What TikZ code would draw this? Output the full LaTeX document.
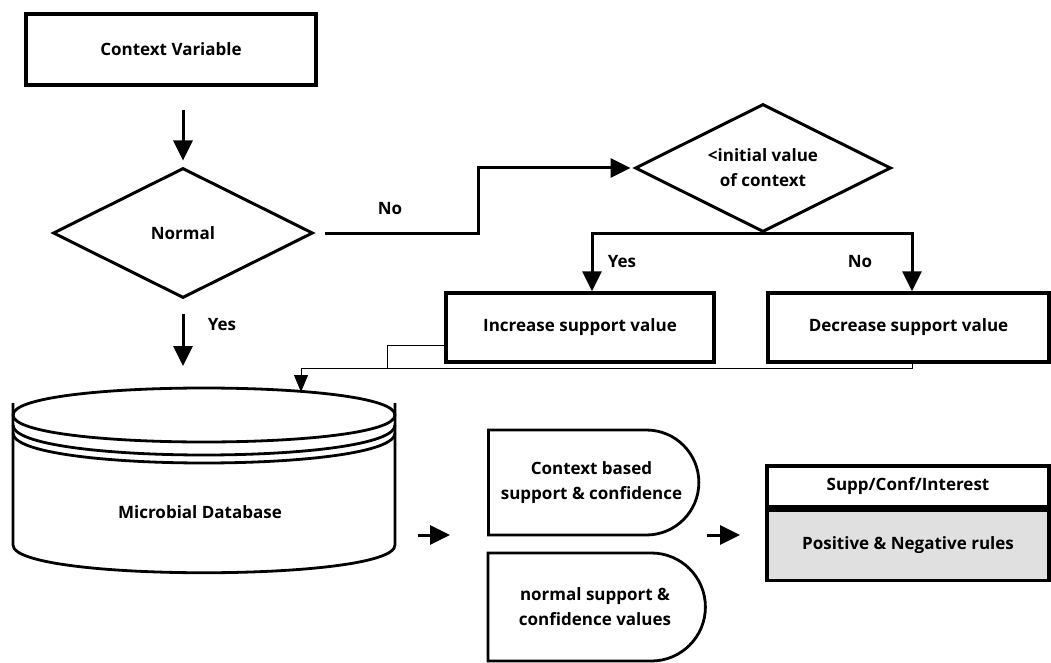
\documentclass[tikz,border=0pt]{standalone}
\usepackage{fontspec}
\setmainfont{Open Sans}
\usetikzlibrary{positioning, arrows.meta, shapes.geometric, shapes.misc}

\begin{document}
\begin{tikzpicture}[
    x=1pt, y=-1pt,
    every node/.style={font=\bfseries\fontsize{17}{25}\selectfont},
    box/.style={rectangle, draw, line width=3.5pt, align=center},
    decision/.style={diamond, draw, line width=3pt, aspect=2, inner sep=0pt, align=center},
    result/.style={rounded rectangle, rounded rectangle west arc=none, draw,
                   line width=2.8pt, align=center},
    dbline/.style={line width=2.8pt},
    arrow/.style={-{Triangle[length=20pt, width=19pt]}, line width=3pt},
    thinline/.style={line width=1pt},
    thinarrow/.style={-{Triangle[length=17pt, width=14pt]}, line width=1pt}
]
  \useasboundingbox (0,0) rectangle (1051,663);

  % context variable and the first test
  \node[box, minimum width=290, minimum height=71] (ctx) at (171,49.5) {Context Variable};
  \node[decision, minimum width=260, minimum height=130] (normal) at (183,233) {Normal};

  % second test and its two outcomes
  \node[decision, minimum width=256, minimum height=128] (init) at (763,168) {<initial value\\of context};
  \node[box, minimum width=268, minimum height=69] (inc) at (580,327.5) {Increase support value};
  \node[box, minimum width=281, minimum height=69] (dec) at (908.5,327.5) {Decrease support value};

  % database cylinder
  \draw[dbline] (13,415) .. controls (13,379) and (395,379) .. (395,415)
                         .. controls (395,451) and (13,451) .. (13,415);
  \draw[dbline] (13,425) .. controls (13,465) and (395,465) .. (395,425);
  \draw[dbline] (13,433) .. controls (13,473) and (395,473) .. (395,433);
  \draw[dbline] (13,403) -- (13,545) .. controls (13,582) and (395,582) .. (395,545) -- (395,403);
  \node (dbtext) at (200,512) {Microbial Database};
  \coordinate (dbrim) at (204,388);
  \coordinate (dbin) at (301,392);
  \coordinate (dbout) at (418,535);

  % support values
  \node[result, minimum width=217, minimum height=105] (ctxsup) at (591.5,482.5)
       {Context based\\support \& confidence};
  \node[result, minimum width=224, minimum height=108] (normsup) at (595,607)
       {normal support \&\\confidence values};
  \coordinate (supout) at (707,535);

  % rules table
  \node[box, minimum width=282, minimum height=41] (rulehead) at (908,486.5) {Supp/Conf/Interest};
  \node[box, fill=black!12, minimum width=282, minimum height=70, below=0pt of rulehead] (rules)
       {Positive \& Negative rules};

  % connectors
  \draw[arrow, shorten <=23pt, shorten >=6pt] (normal.north |- ctx.south) -- (normal.north);
  \draw[arrow, shorten <=14pt, shorten >=22pt] (normal.south) -- (normal.south |- dbrim);
  \node (yes1) at (222,325) {Yes};
  \draw[arrow, shorten <=10pt, shorten >=3pt] (normal.east) -- ++(164,0) |- (init.west);
  \node (no1) at (390,209) {No};
  \draw[arrow] (init.south) -| ([xshift=12pt]inc.north);
  \draw[arrow] (init.south) -| ([xshift=3.5pt]dec.north);
  \node (yes2) at (622,262) {Yes};
  \node (no2) at (860,262) {No};

  \coordinate (jn) at (387,368);
  \draw[thinline] ([yshift=-17.5pt]inc.west) -| (jn);
  \draw[thinarrow] ([xshift=3.5pt]dec.south) |- (dbin |- jn) -- (dbin);

  \draw[arrow] (dbout) -- ++(32,0);
  \draw[arrow] (supout) -- ++(33,0);
\end{tikzpicture}
\end{document}
